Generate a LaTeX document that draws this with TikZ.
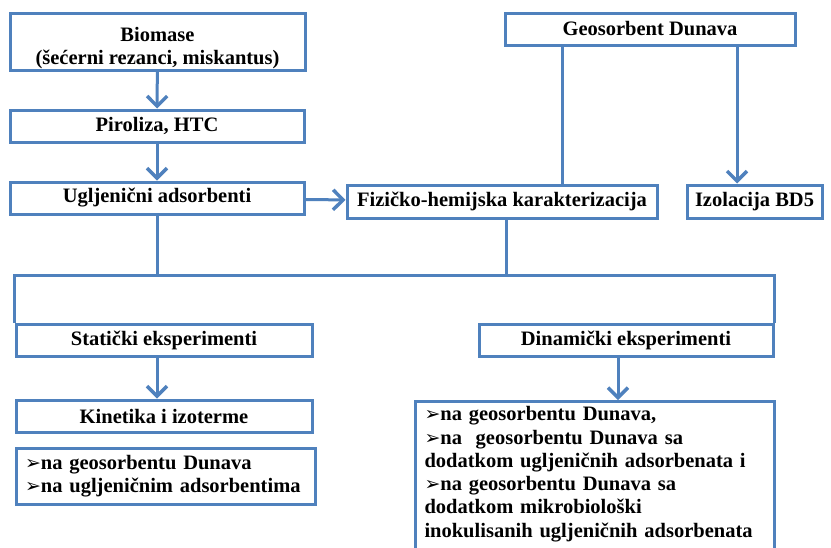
\documentclass[tikz,border=0pt]{standalone}
\usepackage{fontspec}
\setmainfont{Liberation Serif}
\newfontfamily\dejavu{DejaVu Sans}
\usepackage{xcolor}
\usepackage{tikz}
\usetikzlibrary{positioning,calc,arrows.meta}
\definecolor{boxblue}{HTML}{4F81BD}
\newcommand{\pt}{{\dejavu\fontsize{19}{19}\selectfont ➢}}

\begin{document}
\begin{tikzpicture}[x=1pt,y=-1pt,
    box/.style={draw=boxblue, line width=3pt, fill=white, inner sep=0pt, font=\bfseries\fontsize{20.5}{23.3}\selectfont, align=center},
    listbox/.style={box, align=left, inner xsep=9pt},
    line/.style={draw=boxblue, line width=3pt},
    arr/.style={line, -{Straight Barb[length=10pt,width=20pt,line width=3.4pt]}}]
    \useasboundingbox (0,0) rectangle (831,547);
    \clip (0,0) rectangle (831,547);
    \fill[white] (0,0) rectangle (831,547);
    \node[box, minimum width=295pt, minimum height=57pt] (biom) at (157.5,41.5) {\rule{0pt}{27pt}Biomase\\(šećerni rezanci, miskantus)};
    \node[box, minimum width=294pt, minimum height=32pt] (piro) at (157,126) {Piroliza, HTC};
    \node[box, minimum width=294pt, minimum height=32pt] (uglj) at (157,198) {Ugljenični adsorbenti};
    \node[box, minimum width=290pt, minimum height=32pt] (geo) at (650,29) {Geosorbent Dunava};
    \node[box, minimum width=310pt, minimum height=33pt] (fiz) at (502,201.5) {Fizičko-hemijska karakterizacija};
    \node[box, minimum width=135pt, minimum height=33pt] (izol) at (754.5,201.5) {Izolacija BD5};
    \node[box, minimum width=296pt, minimum height=32pt] (stat) at (164,340) {Statički eksperimenti};
    \node[box, minimum width=296pt, minimum height=32pt] (kin) at (164,416) {Kinetika i izoterme};
    \node[listbox, text width=281pt, minimum height=56pt] (kinlist) at (165.5,476) {\pt na geosorbentu Dunava\\\pt na ugljeničnim adsorbentima};
    \node[box, minimum width=294pt, minimum height=32pt] (din) at (626,340) {Dinamički eksperimenti};
    \node[listbox, text width=341pt, inner ysep=5pt, anchor=north west] (dinlist) at (414,400) {\pt na geosorbentu Dunava,\\\pt na\ \ geosorbentu Dunava sa\\dodatkom ugljeničnih adsorbenata i\\\pt na geosorbentu Dunava sa\\dodatkom mikrobiološki\\inokulisanih ugljeničnih adsorbenata\\\mbox{}};
    \coordinate (bus) at (0,275);
    \draw[arr] (biom) -- (piro);
    \draw[arr] (piro) -- (uglj);
    \draw[arr] (uglj) -- (fiz);
    \draw[line] ([xshift=-88pt]geo.south) -- ([xshift=-88pt]geo.south |- fiz.north);
    \draw[arr] ([xshift=87pt]geo.south) -- ([xshift=87pt]geo.south |- izol.north);
    \draw[line] (uglj.south) -- (uglj.south |- bus);
    \draw[line] ([xshift=4pt]fiz.south) -- ([xshift=4pt]fiz.south |- bus);
    \draw[line] (stat.north west) -- (stat.north west |- bus) -| (din.north east);
    \draw[arr] (stat.south -| uglj.south) -- (kin.north -| uglj.south);
    \draw[arr] ([xshift=-8pt]din.south) -- ([xshift=-8pt]din.south |- dinlist.north);
\end{tikzpicture}
\end{document}
